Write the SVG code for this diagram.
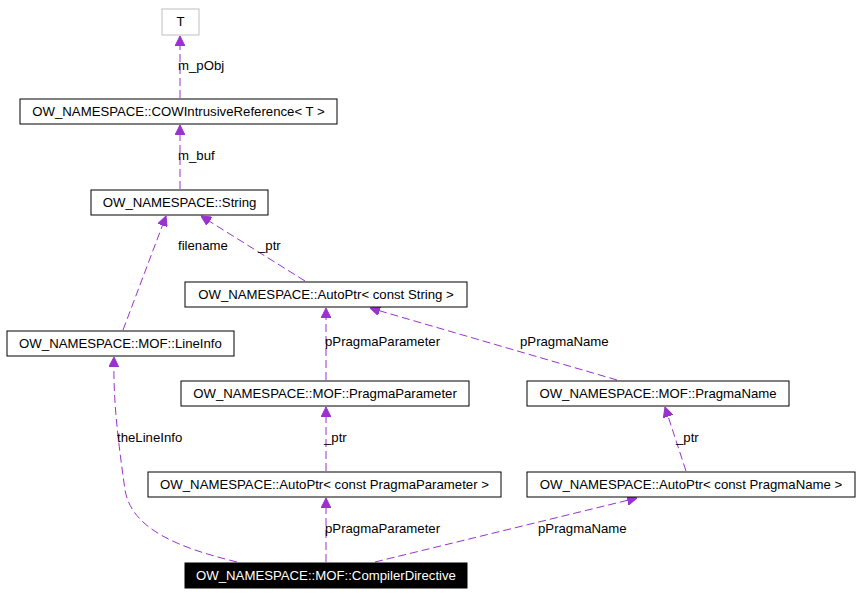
<svg xmlns="http://www.w3.org/2000/svg" width="861" height="595" viewBox="0 0 861 595">
<style>
.n rect{fill:#fff;stroke:#000;stroke-width:1}
text{font-family:"Liberation Sans",Arial,sans-serif;font-size:13.2px}
.n text{text-anchor:middle}
.e path{fill:none;stroke:#9a32cd;stroke-dasharray:8,4}
</style>
<defs><marker id="a" viewBox="0 0 10 10" refX="10" refY="5" markerWidth="10" markerHeight="10" markerUnits="userSpaceOnUse" orient="auto"><path d="M0,0L10,5L0,10z" fill="#9a32cd" stroke="#9a32cd"/></marker></defs>
<rect width="861" height="595" fill="#fff"/>
<g class="e">
<path d="M180,98V36" marker-end="url(#a)"/>
<path d="M180,189V125" marker-end="url(#a)"/>
<path d="M305,281L201,216" marker-end="url(#a)"/>
<path d="M123,330L166,216" marker-end="url(#a)"/>
<path d="M326,380V308" marker-end="url(#a)"/>
<path d="M617,380L370,308" marker-end="url(#a)"/>
<path d="M326,471V407" marker-end="url(#a)"/>
<path d="M686,471L665,407" marker-end="url(#a)"/>
<path d="M326,562V498" marker-end="url(#a)"/>
<path d="M375,562L637,498" marker-end="url(#a)"/>
<path d="M237,562C180,548 132,530 125,490C118,440 113,400 114,357" marker-end="url(#a)"/>
</g>
<g>
<text x="178" y="70">m_pObj</text>
<text x="178" y="160">m_buf</text>
<text x="258" y="250">_ptr</text>
<text x="178" y="250">filename</text>
<text x="325" y="346">pPragmaParameter</text>
<text x="520" y="346">pPragmaName</text>
<text x="324" y="442">_ptr</text>
<text x="676" y="442">_ptr</text>
<text x="117" y="442">theLineInfo</text>
<text x="325" y="533">pPragmaParameter</text>
<text x="538" y="533">pPragmaName</text>
</g>
<g id="T" class="n"><rect x="162" y="9" width="37" height="26" style="stroke:#bfbfbf"/><text x="180.5" y="26">T</text></g>
<g id="cow" class="n"><rect x="20" y="99" width="317" height="25"/><text x="178.5" y="116">OW_NAMESPACE::COWIntrusiveReference&lt; T &gt;</text></g>
<g id="string" class="n"><rect x="91" y="190" width="177" height="25"/><text x="179.5" y="207">OW_NAMESPACE::String</text></g>
<g id="apstr" class="n"><rect x="185" y="282" width="282" height="25"/><text x="326" y="299">OW_NAMESPACE::AutoPtr&lt; const String &gt;</text></g>
<g id="lineinfo" class="n"><rect x="7" y="331" width="227" height="25"/><text x="120.5" y="348">OW_NAMESPACE::MOF::LineInfo</text></g>
<g id="pp" class="n"><rect x="181" y="381" width="288" height="25"/><text x="325" y="398">OW_NAMESPACE::MOF::PragmaParameter</text></g>
<g id="pn" class="n"><rect x="527" y="381" width="262" height="25"/><text x="658" y="398">OW_NAMESPACE::MOF::PragmaName</text></g>
<g id="appp" class="n"><rect x="148" y="472" width="353" height="25"/><text x="324.5" y="489">OW_NAMESPACE::AutoPtr&lt; const PragmaParameter &gt;</text></g>
<g id="appn" class="n"><rect x="527" y="472" width="328" height="25"/><text x="691" y="489">OW_NAMESPACE::AutoPtr&lt; const PragmaName &gt;</text></g>
<g id="cd" class="n"><rect x="185" y="563" width="282" height="25" style="fill:#000"/><text x="326" y="580" fill="#fff">OW_NAMESPACE::MOF::CompilerDirective</text></g>
</svg>
